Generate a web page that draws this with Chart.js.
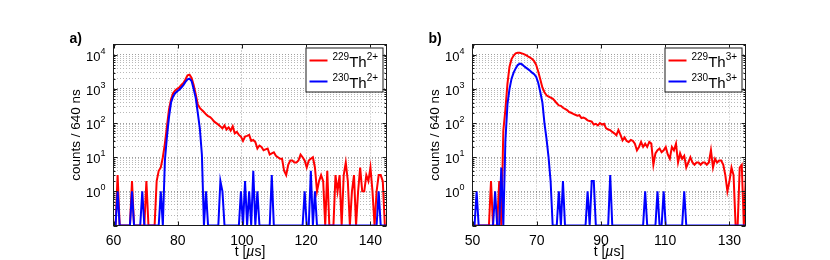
<!DOCTYPE html>
<html>
<head>
<meta charset="utf-8">
<script src="https://cdn.jsdelivr.net/npm/chart.js@4.4.0/dist/chart.umd.min.js"></script>
<style>
  html, body { margin: 0; padding: 0; background: #fff; }
  #wrap { position: relative; width: 830px; height: 260px; overflow: hidden; }
  canvas { position: absolute; top: 0; }
</style>
</head>
<body>
<div id="wrap">
  <canvas id="chartA" width="400" height="260" style="left:0"></canvas>
  <canvas id="chartB" width="400" height="260" style="left:359px"></canvas>
</div>
<script>
const binUs = 0.64;
const startA = 60;
const startB = 50;

// panel a) 229Th2+ / 230Th2+
const th229_2 = [
  0, 0, 3, 0, 0, 0, 0, 0, 0, 2, 0, 0, 0, 0, 0, 0, 2, 0, 0, 0,
  0, 2, 4, 5, 10, 25, 80, 250, 500, 750, 900, 1000, 1100, 1300, 1500, 1900, 2500, 2600, 2100, 1300,
  700, 350, 280, 240, 210, 180, 160, 150, 130, 110, 100, 90, 80, 70, 85, 65, 75, 60, 80, 50,
  55, 45, 40, 30, 40, 42, 45, 30, 32, 28, 18, 22, 20, 16, 17, 18, 12, 13, 14, 11,
  10, 9, 9, 4, 3, 6, 8, 8, 7, 7, 8, 12, 10, 8, 5, 8, 9, 10, 5, 1,
  2, 3, 2, 0, 4, 0, 0, 0, 3, 1, 3, 0, 3, 7, 2, 0, 1, 3, 0, 1,
  5, 1, 1, 3, 2, 5, 1, 0, 1, 3, 3, 2, 0, 0
];
const th230_2 = [
  0, 0, 1, 0, 0, 0, 0, 0, 0, 1, 0, 0, 0, 0, 1, 0, 0, 0, 0, 0,
  0, 0, 0, 1, 0, 8, 40, 150, 400, 600, 750, 850, 950, 1100, 1300, 1600, 1900, 2000, 1700, 1000,
  550, 200, 70, 12, 0, 1, 0, 0, 0, 0, 0, 0, 2, 1, 0, 0, 0, 0, 0, 0,
  0, 0, 1, 0, 2, 0, 1, 0, 4, 0, 1, 0, 0, 0, 0, 0, 0, 3, 0, 0,
  0, 0, 0, 0, 0, 0, 0, 0, 0, 0, 0, 0, 0, 1, 0, 0, 4, 0, 1, 0,
  0, 0, 0, 0, 0, 0, 0, 0, 0, 0, 0, 0, 0, 0, 0, 0, 0, 0, 0, 0,
  0, 0, 0, 0, 0, 0, 0, 0, 0, 1, 0, 0, 0, 0
];

// panel b) 229Th3+ / 230Th3+
const th229_3 = [
  0, 0, 0, 0, 0, 0, 0, 0, 0, 2, 0, 0, 0, 2, 0, 60, 250, 1400, 4500, 7500,
  9500, 11000, 11500, 11500, 11000, 10500, 9800, 9000, 8300, 7500, 6500, 5000, 3200, 1900, 1100, 800, 650, 600, 560, 520,
  450, 380, 330, 320, 280, 260, 240, 210, 200, 185, 175, 165, 170, 140, 145, 135, 120, 115, 110, 90,
  95, 85, 100, 90, 95, 70, 65, 62, 55, 50, 44, 62, 45, 31, 38, 30, 28, 32, 30, 25,
  16, 20, 28, 20, 25, 20, 28, 25, 6, 13, 16, 18, 14, 16, 20, 12, 9, 20, 16, 25,
  7, 13, 9, 11, 5, 7, 10, 7, 6, 7, 7, 6, 7, 7, 6, 7, 16, 5, 9, 7,
  8, 8, 6, 3, 1, 2, 5, 3, 0, 0, 5, 6, 0, 3
];
const th230_3 = [
  0, 0, 1, 0, 0, 0, 0, 0, 0, 0, 0, 1, 0, 0, 5, 0, 30, 350, 1000, 2000,
  3000, 4000, 5000, 5500, 5300, 4700, 4200, 3800, 3400, 3000, 2700, 2250, 1500, 800, 400, 100, 35, 10, 2, 0,
  0, 0, 1, 0, 2, 0, 0, 0, 0, 0, 0, 0, 0, 0, 0, 0, 1, 0, 2, 2,
  0, 0, 0, 0, 0, 0, 0, 3, 0, 0, 0, 0, 0, 0, 0, 0, 0, 0, 0, 0,
  0, 0, 0, 0, 1, 0, 0, 0, 0, 0, 1, 0, 0, 1, 0, 0, 0, 0, 0, 0,
  0, 0, 0, 1, 0, 0, 0, 0, 0, 0, 0, 0, 0, 0, 0, 0, 0, 0, 0, 0,
  0, 0, 0, 0, 0, 0, 0, 0, 0, 0, 0, 0, 0, 0
];

const xTicksA = [60, 80, 100, 120, 140];
const xTicksB = [50, 70, 90, 110, 130];
const decades = [1, 10, 100, 1000, 10000];
const yFloor = 0.1;
const yCeil = 20000;

const FONT = '"Liberation Sans", Arial, Helvetica, sans-serif';
const RED = '#ff0000';
const BLUE = '#0000ff';
const INK = '#1a1a1a';

// empty bins sit on the bottom of the log axis
function toPoints(start, counts) {
    return counts.map((c, i) => ({ x: start + i * binUs, y: Math.max(c, yFloor) }));
}

function isDecade(v) {
    const l = Math.log10(v);
    return Math.abs(l - Math.round(l)) < 1e-9;
}

function logTicks() {
    const out = [];
    for (let e = -1; e <= 4; e++) {
        for (let m = 1; m <= 9; m++) {
            const v = Number((m * Math.pow(10, e)).toPrecision(3));
            if (v >= yFloor && v <= yCeil) out.push({ value: v });
        }
    }
    return out;
}

// draws text pieces, some of them raised and smaller
function drawRich(ctx, parts, x, y, align) {
    const widths = parts.map(p => {
        ctx.font = p.font;
        return ctx.measureText(p.t).width;
    });
    const total = widths.reduce((s, w) => s + w, 0);
    let cx = align === 'center' ? x - total / 2 : (align === 'right' ? x - total : x);
    parts.forEach((p, i) => {
        ctx.font = p.font;
        ctx.fillText(p.t, cx, y + (p.dy || 0));
        cx += widths[i];
    });
}

const framePlugin = {
    id: 'frame',
    afterDraw(chart, args, opts) {
        const { ctx, chartArea: a, scales: { x, y } } = chart;
        ctx.save();
        ctx.strokeStyle = INK;
        ctx.fillStyle = '#000';
        ctx.lineWidth = 1;

        // inward tick marks, matlab style
        ctx.beginPath();
        x.ticks.forEach(t => {
            const px = Math.round(x.getPixelForValue(t.value)) + 0.5;
            ctx.moveTo(px, a.bottom); ctx.lineTo(px, a.bottom - 4);
            ctx.moveTo(px, a.top); ctx.lineTo(px, a.top + 4);
        });
        y.ticks.forEach(t => {
            const py = Math.round(y.getPixelForValue(t.value)) + 0.5;
            const len = isDecade(t.value) ? 4 : 2;
            ctx.moveTo(a.left, py); ctx.lineTo(a.left + len, py);
            ctx.moveTo(a.right, py); ctx.lineTo(a.right - len, py);
        });
        ctx.stroke();
        ctx.strokeRect(a.left, a.top, a.right - a.left, a.bottom - a.top);

        // y tick labels 10^n
        ctx.textBaseline = 'alphabetic';
        decades.forEach(d => {
            const py = y.getPixelForValue(d);
            drawRich(ctx, [
                { t: '10', font: '13px ' + FONT, dy: 6 },
                { t: String(Math.round(Math.log10(d))), font: '9px ' + FONT, dy: -1 }
            ], a.left - 8, py, 'right');
        });

        // axis titles
        const midX = (a.left + a.right) / 2;
        drawRich(ctx, [
            { t: 't [', font: '14px ' + FONT },
            { t: 'µ', font: 'italic 14px ' + FONT },
            { t: 's]', font: '14px ' + FONT }
        ], midX, 256, 'center');

        ctx.save();
        ctx.translate(a.left - 37, (a.top + a.bottom) / 2);
        ctx.rotate(-Math.PI / 2);
        ctx.font = '13.5px ' + FONT;
        ctx.textAlign = 'center';
        ctx.textBaseline = 'middle';
        ctx.fillText('counts / 640 ns', 0, 0);
        ctx.restore();

        // panel letter
        ctx.font = 'bold 14px ' + FONT;
        ctx.fillText(opts.letter, a.left - 44, 43);

        // legend box
        const L = a.right - 81, T = a.top + 3, W = 77, H = 44;
        ctx.fillStyle = '#fff';
        ctx.fillRect(L, T, W, H);
        ctx.strokeRect(L + 0.5, T + 0.5, W, H);
        const rows = [
            { color: RED, mass: '229', y: T + 13 },
            { color: BLUE, mass: '230', y: T + 34 }
        ];
        rows.forEach(r => {
            ctx.strokeStyle = r.color;
            ctx.lineWidth = 2;
            ctx.beginPath();
            ctx.moveTo(L + 4, r.y); ctx.lineTo(L + 22, r.y);
            ctx.stroke();
            ctx.fillStyle = '#000';
            drawRich(ctx, [
                { t: r.mass, font: '10px ' + FONT, dy: -1 },
                { t: 'Th', font: '15px ' + FONT, dy: 6 },
                { t: opts.charge, font: '10px ' + FONT, dy: -1 }
            ], L + 27, r.y, 'left');
        });
        ctx.restore();
    }
};

function buildChart(canvasId, cfg) {
    const ctx = document.getElementById(canvasId).getContext('2d');
    const gridOpts = {
        color: c => (c.tick && isDecade(c.tick.value)) ? 'rgba(0,0,0,0.38)' : 'rgba(0,0,0,0.28)',
        lineWidth: 1,
        drawTicks: false
    };
    return new Chart(ctx, {
        type: 'line',
        data: {
            datasets: [
                {
                    label: cfg.redLabel,
                    data: toPoints(cfg.start, cfg.red),
                    borderColor: RED,
                    borderWidth: 2,
                    pointRadius: 0,
                    tension: 0,
                    order: 2
                },
                {
                    label: cfg.blueLabel,
                    data: toPoints(cfg.start, cfg.blue),
                    borderColor: BLUE,
                    borderWidth: 2,
                    pointRadius: 0,
                    tension: 0,
                    order: 1
                }
            ]
        },
        options: {
            responsive: false,
            animation: false,
            layout: { padding: { left: 73.5, right: 13.5, top: 44.5, bottom: 14.5 } },
            plugins: {
                legend: { display: false },
                tooltip: { enabled: false },
                frame: { letter: cfg.letter, charge: cfg.charge }
            },
            scales: {
                x: {
                    type: 'linear',
                    min: cfg.xMin,
                    max: cfg.xMax,
                    afterBuildTicks: s => { s.ticks = cfg.xTicks.map(v => ({ value: v })); },
                    afterFit: s => { s.height = 20; },
                    grid: gridOpts,
                    border: { display: false, dash: [1, 2] },
                    ticks: { color: '#000', padding: 7, maxRotation: 0, font: { family: FONT, size: 14 } }
                },
                y: {
                    type: 'logarithmic',
                    min: yFloor,
                    max: yCeil,
                    afterBuildTicks: s => { s.ticks = logTicks(); },
                    afterFit: s => { s.width = 40; },
                    grid: gridOpts,
                    border: { display: false, dash: [1, 2] },
                    ticks: { display: false }
                }
            }
        },
        plugins: [framePlugin]
    });
}

buildChart('chartA', {
    letter: 'a)', charge: '2+', start: startA, xMin: 60, xMax: 145, xTicks: xTicksA,
    red: th229_2, blue: th230_2, redLabel: '229Th2+', blueLabel: '230Th2+'
});
buildChart('chartB', {
    letter: 'b)', charge: '3+', start: startB, xMin: 50, xMax: 135, xTicks: xTicksB,
    red: th229_3, blue: th230_3, redLabel: '229Th3+', blueLabel: '230Th3+'
});
</script>
</body>
</html>
